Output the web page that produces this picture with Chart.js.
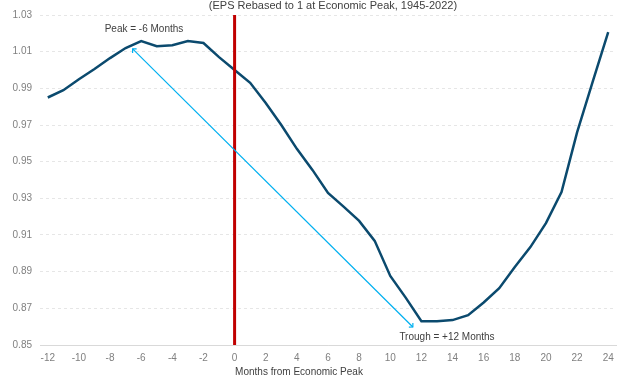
<!DOCTYPE html>
<html>
<head>
<meta charset="utf-8">
<script src="https://cdn.jsdelivr.net/npm/chart.js@4.4.0/dist/chart.umd.min.js"></script>
<style>
  html, body { margin: 0; padding: 0; background: #fff; }
  #wrap { width: 624px; height: 383px; position: relative; }
</style>
</head>
<body>
<div id="wrap"><canvas id="myChart"></canvas></div>
<script>
// months from economic peak
const months = [-12, -11, -10, -9, -8, -7, -6, -5, -4, -3, -2, -1, 0, 1, 2, 3, 4, 5, 6,
  7, 8, 9, 10, 11, 12, 13, 14, 15, 16, 17, 18, 19, 20, 21, 22, 23, 24];
// EPS rebased to 1 at the economic peak
const epsValues = [0.985, 0.989, 0.995, 1.0005, 1.0065, 1.012, 1.0158, 1.013, 1.0135, 1.0158, 1.0147, 1.007, 1.0,
  0.993, 0.982, 0.970, 0.957, 0.9455, 0.933, 0.9255, 0.9177, 0.9068, 0.8877, 0.8757,
  0.863, 0.863, 0.8636, 0.8663, 0.8732, 0.881, 0.8925, 0.9034, 0.9165, 0.9334, 0.966, 0.9935, 1.0207];
const yTicks = [0.85, 0.87, 0.89, 0.91, 0.93, 0.95, 0.97, 0.99, 1.01, 1.03];

const titleText = '(EPS Rebased to 1 at Economic Peak, 1945-2022)';
const xTitle = 'Months from Economic Peak';
const peakLabel = 'Peak = -6 Months';
const troughLabel = 'Trough = +12 Months';
// arrow from near the peak to near the trough, in (month, value)
const arrowFrom = [-6.55, 1.0115];
const arrowTo = [11.45, 0.8598];

const FONT = '"Liberation Sans", Arial, sans-serif';

const extras = {
  id: 'extras',
  afterDatasetsDraw(chart) {
    const c = chart.ctx;
    const x = chart.scales.x, y = chart.scales.y;
    const px = m => x.getPixelForValue(m + 12);
    const area = chart.chartArea;

    // red line at the economic peak
    c.save();
    c.strokeStyle = '#C00000';
    c.lineWidth = 3;
    c.beginPath();
    c.moveTo(px(0), area.top);
    c.lineTo(px(0), area.bottom);
    c.stroke();

    // peak to trough arrow
    const x1 = px(arrowFrom[0]), y1 = y.getPixelForValue(arrowFrom[1]);
    const x2 = px(arrowTo[0]), y2 = y.getPixelForValue(arrowTo[1]);
    c.strokeStyle = '#00B0F0';
    c.lineWidth = 1.2;
    c.beginPath();
    c.moveTo(x1, y1);
    c.lineTo(x2, y2);
    c.stroke();
    const ang = Math.atan2(y2 - y1, x2 - x1);
    const head = (hx, hy, a) => {
      c.beginPath();
      c.moveTo(hx + 4 * Math.cos(a + 0.8), hy + 4 * Math.sin(a + 0.8));
      c.lineTo(hx, hy);
      c.lineTo(hx + 4 * Math.cos(a - 0.8), hy + 4 * Math.sin(a - 0.8));
      c.stroke();
    };
    head(x1, y1, ang);
    head(x2, y2, ang + Math.PI);

    // texts
    c.fillStyle = '#404040';
    c.textBaseline = 'middle';
    c.textAlign = 'center';
    c.font = '11px ' + FONT;
    c.fillText(titleText, 333, 6);
    c.font = '10px ' + FONT;
    c.fillText(peakLabel, 144, 29);
    c.fillText(troughLabel, 447, 337);
    c.fillText(xTitle, 299, 372);
    c.restore();
  }
};

new Chart(document.getElementById('myChart'), {
  type: 'line',
  data: {
    labels: months.map(String),
    datasets: [{
      data: epsValues,
      borderColor: '#0B4A6E',
      borderWidth: 2.5,
      pointRadius: 0,
      tension: 0,
      fill: false
    }]
  },
  options: {
    responsive: true,
    maintainAspectRatio: false,
    animation: false,
    layout: { padding: { top: 15, right: 8, left: 0, bottom: 0 } },
    plugins: { legend: { display: false }, tooltip: { enabled: false } },
    scales: {
      x: {
        type: 'category',
        offset: true,
        grid: { display: false, drawTicks: false },
        border: { display: true, color: '#D9D9D9', width: 1 },
        ticks: {
          autoSkip: false,
          maxRotation: 0,
          padding: 7,
          color: '#808080',
          font: { family: FONT, size: 10 },
          callback: (v, i) => (i % 2 === 0 ? months[i] : '')
        },
        afterFit: s => { s.height = 38; }
      },
      y: {
        min: 0.85,
        max: 1.03,
        afterBuildTicks: s => { s.ticks = yTicks.map(v => ({ value: v })); },
        grid: { color: '#E6E6E6', drawTicks: false },
        border: { display: false, dash: [3, 3] },
        ticks: {
          padding: 8,
          color: '#808080',
          font: { family: FONT, size: 10 },
          callback: v => v.toFixed(2)
        },
        afterFit: s => { s.width = 40; }
      }
    }
  },
  plugins: [extras]
});
</script>
</body>
</html>
